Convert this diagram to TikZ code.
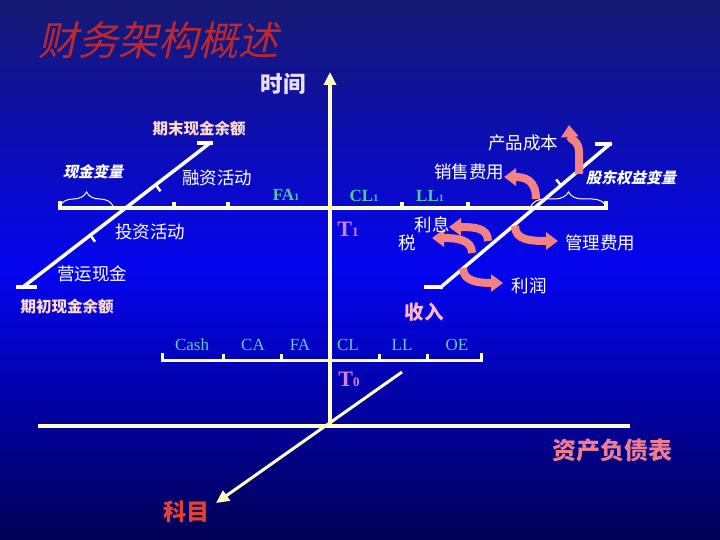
\documentclass[tikz,border=0pt]{standalone}
\usepackage{fontspec}
\setmainfont{Liberation Serif}
\newfontfamily\cjk{Noto Sans CJK SC}
\newfontfamily\cjkslant[FakeSlant=0.22]{Noto Sans CJK SC}
\usetikzlibrary{arrows.meta, positioning, calc, decorations.pathreplacing}
\definecolor{BgTop}{RGB}{22,26,112}
\definecolor{BgMid}{RGB}{4,4,240}
\definecolor{BgBot}{RGB}{0,0,85}
\definecolor{AxisYellow}{RGB}{255,255,195}
\definecolor{TitleRed}{RGB}{190,40,45}
\definecolor{TimeLav}{RGB}{235,225,255}
\definecolor{CashPeach}{RGB}{255,218,205}
\definecolor{RevPink}{RGB}{255,185,205}
\definecolor{SheetPink}{RGB}{238,125,145}
\definecolor{AcctRed}{RGB}{230,65,45}
\definecolor{ItemTeal}{RGB}{100,200,205}
\definecolor{ItemGreen}{RGB}{85,200,150}
\definecolor{TMagenta}{RGB}{210,130,230}
\definecolor{ArrowPink}{RGB}{245,130,130}
\begin{document}
\begin{tikzpicture}[x=1pt,y=-1pt,
        axis/.style={AxisYellow,line width=3.5pt},
        diag/.style={white,line width=3.5pt,line cap=rect},
        brc/.style={white,line width=1pt,decorate,decoration={brace,amplitude=14pt}},
        tip/.style={-{Triangle[width=12pt,length=13pt]}},
        bent/.style={ArrowPink,line width=8pt,-{Triangle[width=17pt,length=12pt]}},
        lbl/.style={font=\cjk\fontsize{17.5}{18}\selectfont,text=white,inner sep=0pt},
        hd/.style={font=\cjk\bfseries\fontsize{15.5}{16}\selectfont,text=CashPeach,inner sep=0pt},
        var/.style={font=\cjkslant\bfseries\fontsize{15}{16}\selectfont,text=white,inner sep=0pt},
        item/.style={font=\fontsize{17}{18}\selectfont,text=ItemTeal,inner sep=0pt},
        sub/.style={font=\bfseries\fontsize{17}{17}\selectfont,text=ItemGreen,inner sep=0pt},
        tm/.style={font=\bfseries\fontsize{22}{22}\selectfont,text=TMagenta,inner sep=0pt}
      ]
        \shade[top color=BgTop,bottom color=BgBot,middle color=BgMid] (0,0) rectangle (720,540);
        \useasboundingbox (0,0) rectangle (720,540);
        % Title
        \node[font=\cjkslant\fontsize{40}{40}\selectfont,text=TitleRed,inner sep=0pt] (ttl) at (158,40) {财务架构概述};
        % Main axes
        \coordinate (o) at (330,426);
        \coordinate (ttop) at (330,72);
        \coordinate (bl) at (38,426);
        \coordinate (br) at (630,426);
        \coordinate (dtop) at (402,372);
        \coordinate (dbot) at (216,503);
        \draw[axis] (bl) -- (br);
        \draw[axis,tip] (o) -- (ttop);
        \draw[axis,line width=3pt,tip] (dtop) -- (dbot);
        \node[font=\cjk\bfseries\fontsize{22.5}{23}\selectfont,text=TimeLav,inner sep=0pt] (time) at (283,84) {时间};
        \node[font=\cjk\bfseries\fontsize{24}{24}\selectfont,text=SheetPink,inner sep=0pt] (sheet) at (612,450) {资产负债表};
        \node[font=\cjk\bfseries\fontsize{23}{23}\selectfont,text=AcctRed,inner sep=0pt] (acct) at (186,512) {科目};
        % T0 balance line
        \draw[axis,line width=3pt] (162,353) -- (162,360) -- (481,360) -- (481,353);
        \foreach \x in {223,281,379,427}
          \draw[axis,line width=3pt] (\x,360) -- (\x,354);
        \node[item] (cash) at (192,345) {Cash};
        \node[item] (ca) at (253,345) {CA};
        \node[item] (fa) at (300,345) {FA};
        \node[item] (cl) at (348,345) {CL};
        \node[item] (ll) at (402,345) {LL};
        \node[item] (oe) at (457,345) {OE};
        \node[tm] (t0) at (349,379) {T{\fontsize{13}{13}\selectfont 0}};
        % T1 balance line
        \draw[axis] (60,201) -- (60,208) -- (606,208) -- (606,201);
        \foreach \x in {174,228,402,468}
          \draw[axis] (\x,208) -- (\x,202);
        \node[sub] (fa1) at (286,195) {FA{\fontsize{10}{10}\selectfont 1}};
        \node[sub] (cl1) at (364,196) {CL{\fontsize{10}{10}\selectfont 1}};
        \node[sub] (ll1) at (430,196) {LL{\fontsize{10}{10}\selectfont 1}};
        \node[tm] (t1) at (348,229) {T{\fontsize{13}{13}\selectfont 1}};
        % Cash flow line
        \coordinate (lb) at (23,287);
        \coordinate (lt) at (210,143);
        \draw[diag] (lb) -- (lt);
        \draw[diag] (18,287) -- (35,287);
        \draw[diag] (199,143) -- (211,143);
        \draw[diag,line width=2.5pt] ($(lb)!0.36!(lt)$) -- ++(4,5.5);
        \draw[diag,line width=2.5pt] ($(lb)!0.71!(lt)$) -- ++(4,5.5);
        \draw[brc] (60,206) -- (113,206);
        \node[hd] (endcash) at (199,129) {期末现金余额};
        \node[hd] (begcash) at (67,307) {期初现金余额};
        \node[var] (cashvar) at (93,172) {现金变量};
        \node[lbl] (finance) at (217,178) {融资活动};
        \node[lbl] (invest) at (150,232) {投资活动};
        \node[lbl] (opcash) at (92,274) {营运现金};
        % Equity line
        \coordinate (rb) at (441,287);
        \coordinate (rt) at (610,144);
        \draw[diag] (rb) -- (rt);
        \draw[diag] (426,287) -- (441,287);
        \draw[diag] (597,144) -- (610,144);
        \draw[diag,line width=2.5pt] ($(rb)!0.71!(rt)$) -- ++(-4,-5);
        \draw[brc] (531,206) -- (606,206);
        \node[var] (eqvar) at (631,178) {股东权益变量};
        \node[font=\cjk\bfseries\fontsize{19.5}{20}\selectfont,text=RevPink,inner sep=0pt] (rev) at (424,312) {收入};
        % Cost and profit arrows
        \draw[bent] (579,174) -- (579,152) .. controls (579,140) and (570,140) .. (569,125);
        \draw[bent] (536,199) .. controls (536,180) and (525,177) .. (504,177);
        \draw[bent] (488,241) .. controls (488,228) and (475,227) .. (449,227);
        \draw[bent] (472,253) .. controls (472,240) and (458,238) .. (432,238);
        \draw[bent] (515,226) .. controls (515,240) and (530,241) .. (558,241);
        \draw[bent] (463,268) .. controls (463,282) and (480,283) .. (503,283);
        \node[lbl] (prodcost) at (523,143) {产品成本};
        \node[lbl] (selling) at (469,172) {销售费用};
        \node[lbl] (interest) at (432,225) {利息};
        \node[lbl] (tax) at (407,243) {税};
        \node[lbl] (admin) at (600,243) {管理费用};
        \node[lbl] (profit) at (529,286) {利润};
      \end{tikzpicture}
\end{document}
